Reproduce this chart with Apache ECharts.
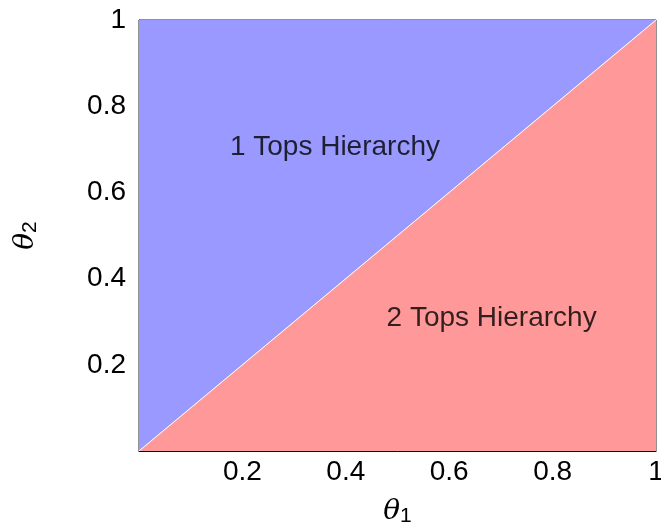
<!DOCTYPE html>
<html><head><meta charset="utf-8">
<script src="https://cdn.jsdelivr.net/npm/echarts@6/dist/echarts.min.js"></script>
<style>html,body{margin:0;padding:0;background:#fff}#c{width:661px;height:526px}</style>
</head><body><div id="c"></div>
<script>
const boundary = [[0, 0], [1, 1]];
const xTicks = [0, 0.2, 0.4, 0.6, 0.8, 1];
const yTicks = [0, 0.2, 0.4, 0.6, 0.8, 1];
const regionLabels = ['1 Tops Hierarchy', '2 Tops Hierarchy'];
const regionLabelPos = [[0.379, 0.705], [0.682, 0.309]];
const regionColors = ['#9999ff', '#ff9999'];

const fmt = v => (v === 0 ? '' : (v === 1 ? '1' : String(v)));
const font = 'Liberation Sans, Arial, Helvetica, sans-serif';
const chart = echarts.init(document.getElementById('c'), null, {renderer: 'canvas'});
chart.setOption({
  animation: false,
  grid: {left: 139, top: 20, right: 5, bottom: 75, outerBoundsMode: 'none', containLabel: false,
         show: true, borderColor: '#222', borderWidth: 1, backgroundColor: 'transparent'},
  xAxis: {
    type: 'value', min: 0, max: 1, interval: 0.2,
    axisLine: {show: true, lineStyle: {color: '#000'}},
    axisTick: {show: false}, splitLine: {show: false},
    axisLabel: {formatter: fmt, fontSize: 28, color: '#000', fontFamily: font, margin: 7},
    name: '{t|θ}{s|1}', nameLocation: 'middle', nameGap: 45,
    nameTextStyle: {rich: {
      t: {fontSize: 28, fontStyle: 'italic', fontFamily: 'DejaVu Serif, serif', color: '#000'},
      s: {fontSize: 21, fontFamily: font, color: '#000', verticalAlign: 'bottom', padding: [10, 0, 0, 0]}
    }}
  },
  yAxis: {
    type: 'value', min: 0, max: 1, interval: 0.2,
    axisLine: {show: true, lineStyle: {color: '#555'}},
    axisTick: {show: false}, splitLine: {show: false},
    axisLabel: {formatter: fmt, fontSize: 28, color: '#000', fontFamily: font, margin: 13},
    name: '{t|θ}{s|2}', nameLocation: 'middle', nameGap: 98, nameRotate: 90,
    nameTextStyle: {rich: {
      t: {fontSize: 28, fontStyle: 'italic', fontFamily: 'DejaVu Serif, serif', color: '#000'},
      s: {fontSize: 21, fontFamily: font, color: '#000', verticalAlign: 'bottom', padding: [10, 0, 0, 0]}
    }}
  },
  series: [
    {type: 'line', data: boundary, symbol: 'none', z: 1,
     lineStyle: {width: 0}, areaStyle: {color: regionColors[0], opacity: 1, origin: 'end'}},
    {type: 'line', data: boundary, symbol: 'none', z: 2,
     lineStyle: {width: 1, color: '#fff'}, areaStyle: {color: regionColors[1], opacity: 1, origin: 'start'}},
    {type: 'scatter', symbolSize: 0, z: 5, silent: true,
     data: regionLabelPos.map((p, i) => ({value: p, name: regionLabels[i]})),
     label: {show: true, position: 'inside', formatter: p => p.name, fontSize: 28, color: '#000', fontFamily: font}}
  ]
});
</script></body></html>
